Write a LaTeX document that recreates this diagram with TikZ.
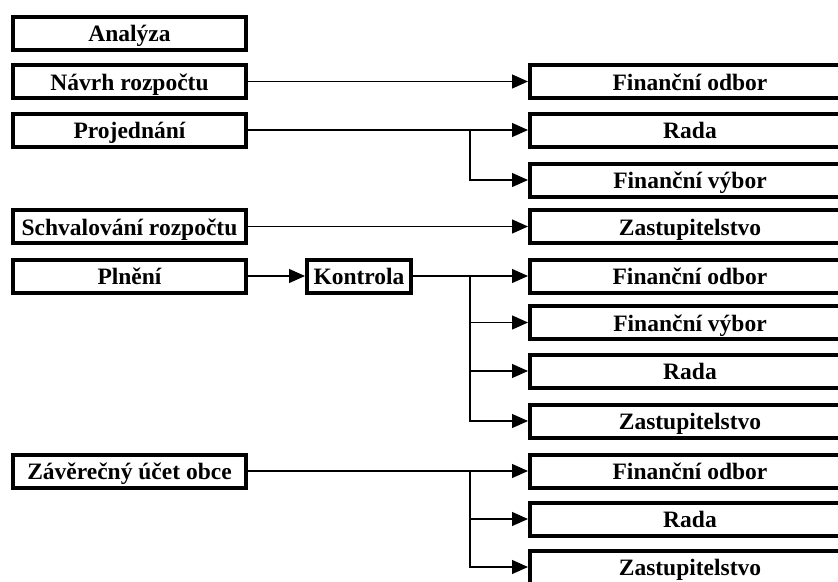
\documentclass[tikz,border=0pt]{standalone}
\usepackage{fontspec}
\newfontfamily\boxfont{Liberation Serif}
\usetikzlibrary{arrows.meta}
\begin{document}
\begin{tikzpicture}[x=1pt,y=-1pt,
  box/.style={draw=black, line width=4pt, inner sep=0pt, minimum height=33pt,
    text height=17.5pt, text depth=0pt,
    font=\boxfont\bfseries\fontsize{23.5}{27}\selectfont, text=black},
  lbox/.style={box, minimum width=233pt},
  rbox/.style={box, minimum width=320pt},
  kbox/.style={box, minimum width=104pt},
  arr/.style={draw=black, line width=1.2pt, -{Triangle[length=16pt,width=14pt]}}]
\useasboundingbox (0,0) rectangle (838,581);
\clip (0,0) rectangle (838,581);
\fill[white] (0,0) rectangle (838,581);
% left column
\node[lbox] (L1) at (129.5,33) {Analýza};
\node[lbox] (L2) at (129.5,81.5) {Návrh rozpočtu};
\node[lbox] (L3) at (129.5,130) {Projednání};
\node[lbox] (L4) at (129.5,226.5) {Schvalování rozpočtu};
\node[lbox] (L5) at (129.5,276) {Plnění};
\node[kbox] (K) at (359,276) {Kontrola};
\node[lbox] (L6) at (129.5,471) {Závěrečný účet obce};
% right column
\node[rbox] (R1) at (690,81.5) {Finanční odbor};
\node[rbox] (R2) at (690,130) {Rada};
\node[rbox] (R3) at (690,180) {Finanční výbor};
\node[rbox] (R4) at (690,226.5) {Zastupitelstvo};
\node[rbox] (R5) at (690,276) {Finanční odbor};
\node[rbox] (R6) at (690,322.5) {Finanční výbor};
\node[rbox] (R7) at (690,371) {Rada};
\node[rbox] (R8) at (690,421) {Zastupitelstvo};
\node[rbox] (R9) at (690,471) {Finanční odbor};
\node[rbox] (R10) at (690,519) {Rada};
\node[rbox] (R11) at (690,567) {Zastupitelstvo};
% branch points
\coordinate (b1) at (470,130);
\coordinate (b2) at (470,276);
\coordinate (b3) at (470,471);
% connectors
\draw[arr] (L2.east) -- (R1.west);
\draw[arr] (L3.east) -- (R2.west);
\draw[arr] (b1) |- (R3.west);
\draw[arr] (L4.east) -- (R4.west);
\draw[arr] (L5.east) -- (K.west);
\draw[arr] (K.east) -- (R5.west);
\draw[arr] (b2) |- (R6.west);
\draw[arr] (b2) |- (R7.west);
\draw[arr] (b2) |- (R8.west);
\draw[arr] (L6.east) -- (R9.west);
\draw[arr] (b3) |- (R10.west);
\draw[arr] (b3) |- (R11.west);
\end{tikzpicture}
\end{document}
